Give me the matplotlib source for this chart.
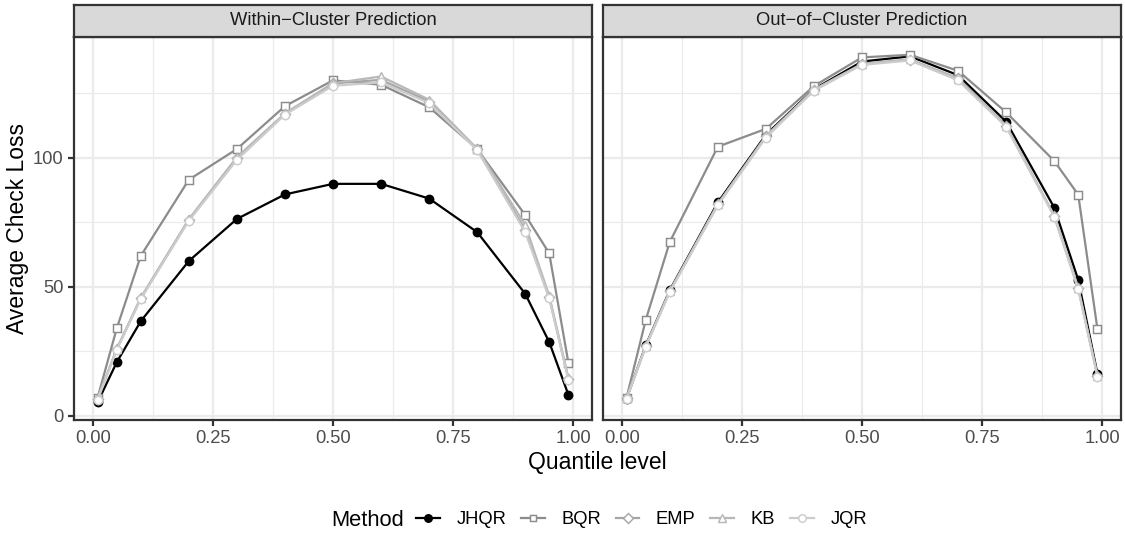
import matplotlib
matplotlib.use("Agg")
import matplotlib.pyplot as plt
from matplotlib.lines import Line2D

plt.rcParams['font.family'] = ['Liberation Sans', 'DejaVu Sans']

# quantile levels
q = [0.01, 0.05, 0.1, 0.2, 0.3, 0.4, 0.5, 0.6, 0.7, 0.8, 0.9, 0.95, 0.99]

# within-cluster prediction (left panel)
jhqr_w = [5.2, 20.8, 36.7, 60.0, 76.3, 85.8, 89.9, 89.9, 84.2, 71.2, 47.3, 28.6, 8.1]
bqr_w = [7.0, 33.9, 62.0, 91.5, 103.4, 120.0, 130.0, 128.3, 119.6, 103.4, 77.8, 63.0, 20.4]
emp_w = [6.5, 25.8, 45.6, 76.0, 100.0, 117.0, 128.8, 130.2, 121.8, 103.3, 72.0, 46.0, 14.2]
kb_w = [6.8, 26.0, 45.8, 76.2, 100.2, 117.2, 128.9, 131.5, 122.5, 103.5, 74.0, 46.5, 14.5]
jqr_w = [6.2, 25.6, 45.3, 75.6, 99.2, 116.7, 127.9, 129.2, 121.2, 103.0, 71.2, 45.5, 14.0]

# out-of-cluster prediction (right panel)
jhqr_o = [6.7, 27.3, 48.7, 82.7, 108.9, 126.6, 137.3, 139.3, 132.0, 114.0, 80.7, 52.7, 16.3]
bqr_o = [7.0, 37.2, 67.4, 104.3, 111.2, 127.8, 138.9, 139.9, 133.7, 117.6, 98.8, 85.7, 33.6]
emp_o = [6.8, 27.0, 48.3, 82.0, 108.3, 126.3, 136.3, 138.0, 130.8, 112.5, 77.5, 49.5, 15.5]
kb_o = [6.9, 27.1, 48.4, 82.1, 108.4, 126.4, 136.4, 138.1, 130.6, 112.3, 77.6, 49.6, 15.6]
jqr_o = [6.6, 26.8, 48.0, 81.6, 107.8, 126.0, 136.0, 137.7, 130.0, 112.0, 77.2, 49.0, 15.1]

methods = ["JHQR", "BQR", "EMP", "KB", "JQR"]
panels = ["Within\u2212Cluster Prediction", "Out\u2212of\u2212Cluster Prediction"]
data = [[jhqr_w, bqr_w, emp_w, kb_w, jqr_w],
        [jhqr_o, bqr_o, emp_o, kb_o, jqr_o]]

colors = ["#000000", "#8C8C8C", "#A6A6A6", "#B8B8B8", "#CCCCCC"]
markers = ["o", "s", "D", "^", "o"]
msizes = [4.0, 3.7, 3.4, 4.2, 4.0]
fills = ["#000000", "white", "white", "white", "white"]

W, H = 1125, 535
fig = plt.figure(figsize=(W / 150, H / 150), dpi=150)

lw = 1.07
grey20 = "#333333"

panel_x = [74, 603]
panel_w = 518
top, bot = 37, 420
strip_top = 5

for i in range(2):
    ax = fig.add_axes([panel_x[i] / W, 1 - bot / H, panel_w / W, (bot - top) / H])
    for j, m in enumerate(methods):
        ax.plot(q, data[i][j], color=colors[j], lw=lw, marker=markers[j],
                ms=msizes[j], mfc=fills[j], mec=colors[j], mew=0.7, zorder=3 + j)
    ax.set_xlim(-0.039, 1.039)
    ax.set_ylim(-1.6, 146.8)
    ax.set_xticks([0, 0.25, 0.5, 0.75, 1.0])
    ax.set_xticklabels(["0.00", "0.25", "0.50", "0.75", "1.00"])
    ax.set_xticks([0.125, 0.375, 0.625, 0.875], minor=True)
    ax.set_yticks([0, 50, 100])
    ax.set_yticks([25, 75, 125], minor=True)
    ax.grid(which="major", color="#EBEBEB", lw=1.07, zorder=0)
    ax.grid(which="minor", color="#EBEBEB", lw=0.53, zorder=0)
    ax.set_axisbelow(True)
    for s in ax.spines.values():
        s.set_color(grey20)
        s.set_linewidth(1.07)
    ax.tick_params(which="major", length=2.75, width=1.07, color=grey20,
                   labelsize=8.8, labelcolor="#4D4D4D", pad=2.2)
    ax.tick_params(which="minor", length=0)
    if i == 1:
        ax.tick_params(axis="y", which="major", length=0, labelleft=False)

    # facet strip
    sax = fig.add_axes([panel_x[i] / W, 1 - top / H, panel_w / W, (top - strip_top) / H])
    sax.set_facecolor("#D9D9D9")
    sax.set_xticks([])
    sax.set_yticks([])
    for s in sax.spines.values():
        s.set_color(grey20)
        s.set_linewidth(1.07)
    sax.text(0.5, 0.5, panels[i], ha="center", va="center", fontsize=8.8,
             color="#1A1A1A", transform=sax.transAxes)

fig.text(18 / W, 1 - 228 / H, "Average Check Loss", rotation=90, ha="center",
         va="center", fontsize=11)
fig.text(597 / W, 1 - 463 / H, "Quantile level", ha="center", va="center", fontsize=11)

# legend at the bottom
handles = []
for j, m in enumerate(methods):
    handles.append(Line2D([], [], color=colors[j], lw=lw, marker=markers[j],
                          ms=msizes[j] * 0.9, mfc=fills[j], mec=colors[j], mew=0.7))
fig.text(331 / W, 1 - 520 / H, "Method", ha="left", va="center", fontsize=10.5)
fig.legend(handles, methods, loc="center left", bbox_to_anchor=(416 / W, 1 - 520 / H),
           ncol=5, frameon=False, fontsize=8.8, handlelength=1.3, handletextpad=0.9,
           columnspacing=0.8, borderpad=0, borderaxespad=0)

fig.savefig("out.png", dpi=150)
